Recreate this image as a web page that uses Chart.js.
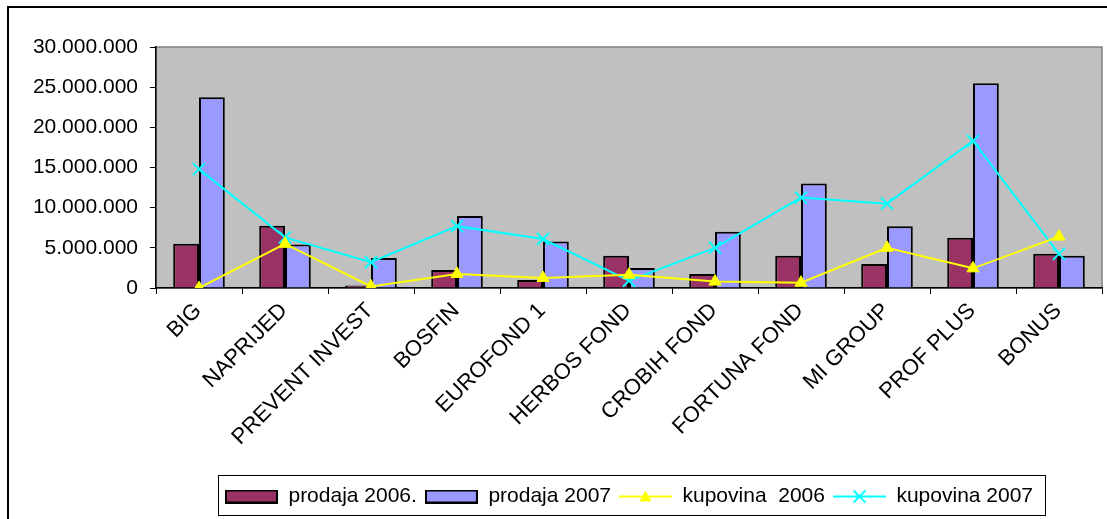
<!DOCTYPE html>
<html>
<head>
<meta charset="utf-8">
<script src="https://cdn.jsdelivr.net/npm/chart.js@4"></script>
<style>
  html, body { margin:0; padding:0; background:#fff; }
  #wrap { width:1107px; height:519px; }
</style>
</head>
<body>
<div id="wrap"><canvas id="chart" width="1107" height="519"></canvas></div>
<script>
const categories = ['BIG','NAPRIJED','PREVENT INVEST','BOSFIN','EUROFOND 1','HERBOS FOND','CROBIH FOND','FORTUNA FOND','MI GROUP','PROF PLUS','BONUS'];
const prodaja2006  = [5500000, 7750000, 300000, 2250000, 1000000, 4000000, 1750000, 4000000, 3000000, 6250000, 4250000];
const prodaja2007  = [23750000, 5400000, 3750000, 8950000, 5800000, 2500000, 7000000, 13000000, 7700000, 25500000, 4000000];
const kupovina2006 = [0, 5500000, 200000, 1750000, 1250000, 1650000, 800000, 650000, 5000000, 2450000, 6400000];
const kupovina2007 = [14800000, 6300000, 3200000, 7700000, 6100000, 900000, 5000000, 11250000, 10500000, 18300000, 4250000];
const yMax = 30000000, yStep = 5000000;

const FONT = { family:'"Liberation Sans", Arial, sans-serif', size:21 };
const XFONT = { family:'"Liberation Sans", Arial, sans-serif', size:22 };

function dots(v){ return String(v).replace(/\B(?=(\d{3})+(?!\d))/g, '.'); }

// little legend swatches drawn on offscreen canvases
function barSwatch(color){
  const c = document.createElement('canvas');
  c.width = 53; c.height = 14;
  const g = c.getContext('2d');
  g.fillStyle = color; g.fillRect(1,1,51,12);
  g.strokeStyle = '#000'; g.lineWidth = 2; g.strokeRect(1,1,51,12);
  return c;
}
function lineSwatch(color, marker){
  const c = document.createElement('canvas');
  c.width = 53; c.height = 16;
  const g = c.getContext('2d');
  g.strokeStyle = color; g.fillStyle = color; g.lineWidth = 2;
  g.beginPath(); g.moveTo(0,8); g.lineTo(53,8); g.stroke();
  g.beginPath();
  if (marker === 'triangle') {
    g.moveTo(26.5,2); g.lineTo(32.5,13); g.lineTo(20.5,13); g.closePath(); g.fill();
  } else {
    g.moveTo(20.5,2); g.lineTo(32.5,14); g.moveTo(32.5,2); g.lineTo(20.5,14); g.stroke();
  }
  return c;
}

const frame = {
  id:'frame',
  beforeDraw(chart){
    const {ctx, chartArea:a, width, height} = chart;
    ctx.save();
    ctx.fillStyle = '#fff'; ctx.fillRect(0,0,width,height);
    ctx.strokeStyle = '#000'; ctx.lineWidth = 2;
    ctx.beginPath(); ctx.moveTo(8,height); ctx.lineTo(8,7); ctx.lineTo(width,7); ctx.stroke();
    ctx.fillStyle = '#C0C0C0'; ctx.fillRect(a.left,a.top,a.width,a.height);
    ctx.strokeStyle = '#808080'; ctx.lineWidth = 1.5;
    ctx.strokeRect(a.left,a.top,a.width,a.height);
    ctx.restore();
  },
  afterDraw(chart){
    const lg = chart.legend, hb = lg.legendHitBoxes;
    if (!hb || !hb.length) return;
    const first = hb[0], last = hb[hb.length-1];
    const ctx = chart.ctx;
    ctx.save();
    ctx.strokeStyle = '#000'; ctx.lineWidth = 1;
    ctx.strokeRect(Math.round(first.left - 7)+0.5, Math.round(lg.top - 3)+0.5,
      Math.round(last.left + last.width - first.left + 19), Math.round(lg.bottom - lg.top + 1));
    ctx.restore();
  }
};

const swatches = [barSwatch('#993366'), barSwatch('#9999FF'), lineSwatch('#FFFF00','triangle'), lineSwatch('#00FFFF','x')];

new Chart(document.getElementById('chart'), {
  data: {
    labels: categories,
    datasets: [
      { type:'bar', label:'prodaja 2006.', data:prodaja2006, backgroundColor:'#993366', borderColor:'#000', borderWidth:2, order:1 },
      { type:'bar', label:'prodaja 2007', data:prodaja2007, backgroundColor:'#9999FF', borderColor:'#000', borderWidth:2, order:1 },
      { type:'line', label:'kupovina  2006', data:kupovina2006, borderColor:'#FFFF00', backgroundColor:'#FFFF00',
        borderWidth:2, tension:0, fill:false, pointStyle:'triangle', pointRadius:7, pointBorderWidth:1,
        pointBackgroundColor:'#FFFF00', pointBorderColor:'#FFFF00', order:0 },
      { type:'line', label:'kupovina 2007', data:kupovina2007, borderColor:'#00FFFF', backgroundColor:'#00FFFF',
        borderWidth:2, tension:0, fill:false, pointStyle:'crossRot', pointRadius:8.5, pointBorderWidth:2,
        pointBorderColor:'#00FFFF', order:0 }
    ]
  },
  options: {
    responsive:false,
    animation:false,
    devicePixelRatio:1,
    layout:{ autoPadding:false, padding:{ top:47, left:10, right:5, bottom:2 } },
    datasets:{ bar:{ barPercentage:1, categoryPercentage:0.6 } },
    plugins:{
      tooltip:{ enabled:false },
      legend:{
        position:'bottom',
        fullSize:false,
        labels:{
          usePointStyle:true,
          pointStyleWidth:53,
          boxHeight:14,
          padding:8,
          color:'#000',
          font:FONT,
          generateLabels(chart){
            return chart.data.datasets.map((ds,i)=>({
              text:ds.label, pointStyle:swatches[i], datasetIndex:i,
              fillStyle:'rgba(0,0,0,0)', strokeStyle:'rgba(0,0,0,0)', lineWidth:0, hidden:false, fontColor:'#000'
            }));
          }
        }
      }
    },
    scales:{
      x:{
        type:'category',
        offset:true,
        grid:{ offset:true, drawOnChartArea:false, tickLength:6, color:'#000' },
        border:{ color:'#000', width:1.5 },
        ticks:{ autoSkip:false, minRotation:45, maxRotation:45, color:'#000', font:XFONT, padding:4, labelOffset:-1 },
        afterFit(s){ s.height = 190; s.paddingRight = 0; }
      },
      y:{
        min:0, max:yMax,
        grid:{ drawOnChartArea:false, tickLength:6, color:'#000' },
        border:{ color:'#000', width:1.5 },
        ticks:{ stepSize:yStep, color:'#000', font:FONT, padding:12, callback:v=>dots(v) },
        afterFit(s){ s.width = 146; }
      }
    }
  },
  plugins:[frame]
});
</script>
</body>
</html>
